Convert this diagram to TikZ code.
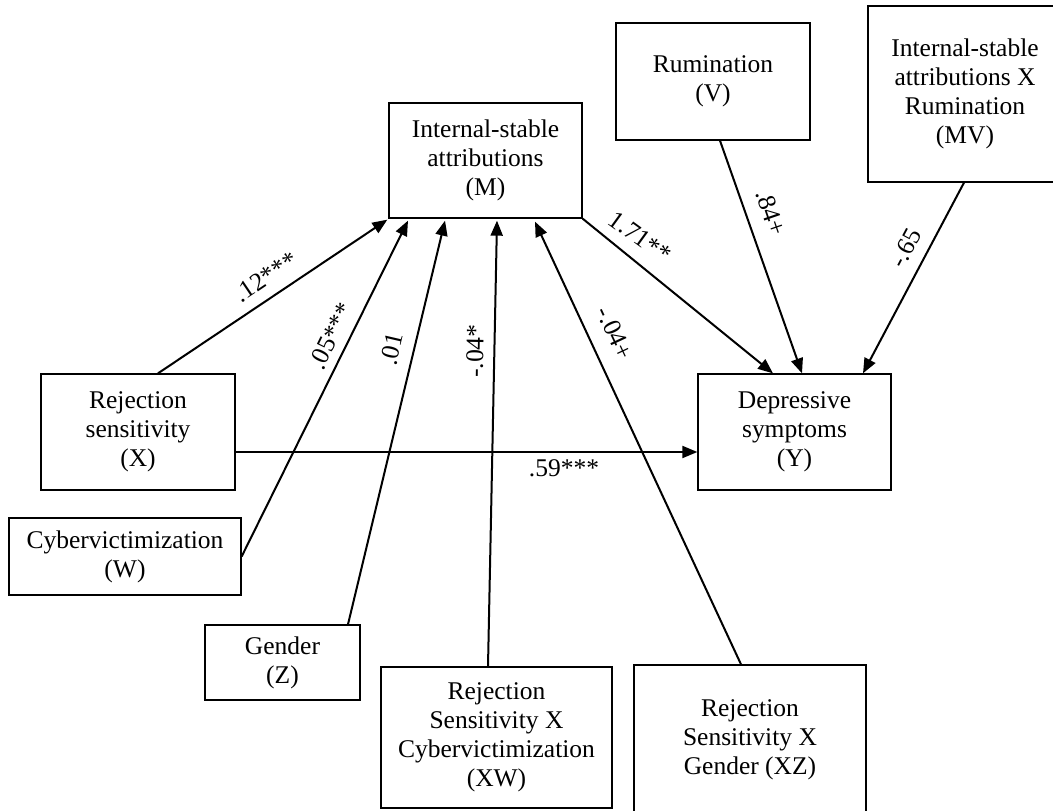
\documentclass[tikz,border=0pt]{standalone}
\usepackage{fontspec}
\setmainfont{Liberation Serif}
\usetikzlibrary{arrows.meta}
\begin{document}
\begin{tikzpicture}[x=1pt,y=-1pt,
  box/.style={draw=black, line width=1.3pt, fill=white, align=center, inner sep=0pt,
    font=\fontsize{25.5}{29}\selectfont},
  path/.style={draw=black, line width=2pt, -{Triangle[length=15pt,width=12pt]}},
  coef/.style={inner sep=0pt, font=\fontsize{25.5}{29}\selectfont}]
\useasboundingbox (0,0) rectangle (1053,811);
\clip (0,0) rectangle (1053,811);
\fill[white] (0,0) rectangle (1053,811);

% variables
\node[box, minimum width=193pt, minimum height=115pt] (M)  at (485.5,160.5) {Internal-stable\\attributions\\(M)};
\node[box, minimum width=194pt, minimum height=117pt] (V)  at (713,81.5)    {Rumination\\(V)};
\node[box, minimum width=194pt, minimum height=176pt] (MV) at (965,94)      {Internal-stable\\attributions X\\Rumination\\(MV)};
\node[box, minimum width=194pt, minimum height=116pt] (X)  at (138,432)     {Rejection\\sensitivity\\(X)};
\node[box, minimum width=193pt, minimum height=116pt] (Y)  at (794.5,432)   {Depressive\\symptoms\\(Y)};
\node[box, minimum width=232pt, minimum height=77pt]  (W)  at (125,556.5)   {Cybervictimization\\(W)};
\node[box, minimum width=155pt, minimum height=75pt]  (Z)  at (282.5,662.5) {Gender\\(Z)};
\node[box, minimum width=231pt, minimum height=141pt] (XW) at (496.5,737.5) {Rejection\\Sensitivity X\\Cybervictimization\\(XW)};
\node[box, minimum width=232pt, minimum height=150pt] (XZ) at (750,740)     {Rejection\\Sensitivity X\\Gender (XZ)};

% paths into the mediator
\draw[path] ([xshift=20pt]X.north) -- ([xshift=-1pt,yshift=-1pt]M.south west);
\draw[path] (W.east) -- ([xshift=-77.5pt,yshift=-2pt]M.south);
\draw[path] ([xshift=65.5pt]Z.north) -- ([xshift=-40.5pt,yshift=-2pt]M.south);
\draw[path] ([xshift=-8.5pt]XW.north) -- ([xshift=11.5pt,yshift=-2pt]M.south);
\draw[path] ([xshift=-9pt]XZ.north) -- ([xshift=49.5pt,yshift=-3pt]M.south);

% paths into the outcome
\draw[path] (M.south east) -- ([xshift=-21.5pt]Y.north);
\draw[path] ([xshift=7pt]V.south) -- ([xshift=7.5pt]Y.north);
\draw[path] ([xshift=-1pt]MV.south) -- ([xshift=68.5pt]Y.north);
\draw[path] ([yshift=-20pt]X.east) -- ([yshift=-20pt]Y.west);

% coefficients
\node[coef, rotate=34]  (cXM)  at (266,277) {.12***};
\node[coef, rotate=64]  (cWM)  at (331,336) {.05***};
\node[coef, rotate=77]  (cZM)  at (392,349) {.01};
\node[coef, rotate=89]  (cXWM) at (475,351) {-.04*};
\node[coef, rotate=-65] (cXZM) at (615,333) {-.04+};
\node[coef, rotate=-36] (cMY)  at (640,237) {1.71**};
\node[coef, rotate=-71] (cVY)  at (771,213) {.84+};
\node[coef, rotate=62]  (cMVY) at (906,248) {-.65};
\node[coef]             (cXY)  at (564,468) {.59***};
\end{tikzpicture}
\end{document}
